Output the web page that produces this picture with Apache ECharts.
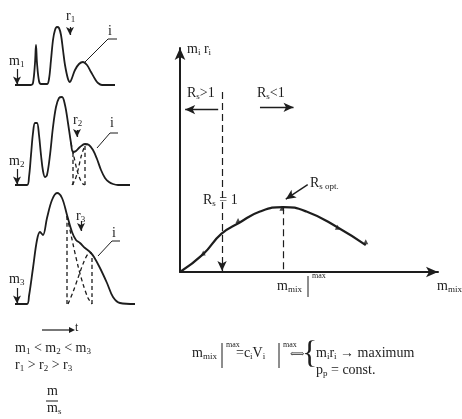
<!DOCTYPE html>
<html>
<head>
<meta charset="utf-8">
<script src="https://cdn.jsdelivr.net/npm/echarts@6/dist/echarts.min.js"></script>
<style>
  html, body { margin: 0; padding: 0; background: #fff; }
  #chart { width: 462px; height: 419px; }
</style>
</head>
<body>
<div id="chart"></div>
<script>
const INK = '#1d1d1d';
const SERIF = '"Liberation Serif", "DejaVu Serif", serif';

// Detector traces for three injected masses m1 < m2 < m3: [time, signal]
const trace1 = [[0,0],[1.6,0],[1.8,2],[2.0,22],[2.1,40],[2.2,22],[2.4,4],[2.6,1],[3.2,1],[3.4,6],[3.6,25],[3.8,45],[4.0,55],[4.2,58],[4.4,57],[4.6,50],[4.8,35],[5.0,20],[5.3,6],[5.5,3],[5.7,7],[6.0,15],[6.4,21],[6.8,23],[7.2,20],[7.6,13],[8.0,6],[8.3,2],[8.7,0],[10,0]];
const trace2 = [[0,0],[1.2,0],[1.4,8],[1.6,30],[1.8,52],[2.0,62],[2.2,62],[2.4,50],[2.6,30],[2.8,14],[3.0,8],[3.2,10],[3.5,30],[3.8,58],[4.1,78],[4.4,87],[4.7,88],[5.0,80],[5.3,62],[5.6,42],[5.8,33],[6.1,34],[6.5,38],[7.0,41],[7.4,40],[7.8,35],[8.2,26],[8.6,15],[9.0,7],[9.4,3],[9.8,1],[10.3,0],[11.5,0]];
const trace3 = [[0,0],[1.2,0],[1.4,8],[1.8,36],[2.2,64],[2.5,72],[2.8,69],[3.2,86],[3.7,104],[4.2,111],[4.7,106],[5.2,89],[5.7,72],[6.1,64],[6.5,61],[7.0,56],[7.5,52],[7.9,47],[8.5,36],[9.2,21],[9.8,7],[10.5,1],[12,0]];

// Resolved components of the overlapping pair (drawn dashed)
const tail2 = [[5.6,42],[5.9,28],[6.2,15],[6.5,6],[6.8,1],[7.0,0]];
const front2 = [[5.7,0],[6.0,5],[6.3,15],[6.6,28],[6.9,37],[7.1,40]];
const tail3 = [[5.2,88],[5.8,60],[6.3,38],[6.8,20],[7.3,6],[7.7,0]];
const front3 = [[5.3,0],[5.8,12],[6.3,26],[6.8,40],[7.3,50],[7.7,51]];

// Cut positions between the pair: [time, signal at the cut]
const cuts2 = [[5.8,33],[7.0,41]];
const cuts3 = [[5.2,88],[7.7,49]];

// Retention marks r1 > r2 > r3: [time, arrow top, arrow tip]
const retention = [[5.5,58,50],[6.2,55,48],[6.6,83,73]];
// Leader line to component i in each trace
const leaders = [
  [[7.0,23],[9.3,46],[10.2,46]],
  [[8.2,37],[9.5,52],[10.3,52]],
  [[8.3,48],[9.7,63],[10.5,63]]
];

// Productivity m_i·r_i against injected mass m_mix
const mixLoad      = [0, 0.9, 1.6, 2.3, 3.1, 4.0, 4.9, 6.1, 7.2];
const productivity = [0, 0.8, 1.7, 2.2, 2.7, 2.9, 2.7, 2.0, 1.2];
const measuredLoad = [0.9, 2.25, 3.95, 6.1, 7.2];
const measuredProd = [0.85, 2.3, 2.85, 2.0, 1.35];
const rsOneLoad = 1.63;   // load where R_s = 1
const optLoad = 4.0;      // m_mix at the maximum

const traces = [trace1, trace2, trace3];
const baselines = [85, 185, 304];
const spans = [80, 100, 120];   // signal range per panel, 1 unit per pixel

const grids = baselines.map((b, i) => ({ left: 15, width: 125, top: b - spans[i], height: spans[i] }));
grids.push({ left: 180, width: 258, top: 48, height: 224 });

const hiddenX = i => ({ type: 'value', gridIndex: i, min: 0, max: 12.5, show: false });
const hiddenY = i => ({ type: 'value', gridIndex: i, min: 0, max: spans[i], show: false });

const arrowStyle = { color: INK, width: 1.2, type: 'solid' };
function markArrows(pairs) {
  return {
    silent: true, symbol: ['none', 'arrow'], symbolSize: [6, 8],
    label: { show: false }, lineStyle: arrowStyle,
    emphasis: { disabled: true },
    data: pairs.map(([a, b]) => [{ coord: a }, { coord: b }])
  };
}

const series = [];
traces.forEach((tr, i) => {
  const r = retention[i];
  series.push({
    type: 'line', xAxisIndex: i, yAxisIndex: i, data: tr, smooth: 0.35,
    symbol: 'none', lineStyle: { color: INK, width: 1.8 },
    markLine: markArrows([
      [[0.2, 16], [0.2, 0.5]],
      [[r[0], r[1]], [r[0], r[2]]]
    ])
  });
  series.push({
    type: 'line', xAxisIndex: i, yAxisIndex: i, data: leaders[i],
    symbol: 'none', lineStyle: { color: INK, width: 1 }
  });
});

function dashed(i, data) {
  return { type: 'line', xAxisIndex: i, yAxisIndex: i, data, smooth: 0.3, symbol: 'none',
    lineStyle: { color: INK, width: 1.3, type: [4, 3] } };
}
series.push(dashed(1, tail2), dashed(1, front2), dashed(2, tail3), dashed(2, front3));
cuts2.forEach(c => series.push(dashed(1, [[c[0], 0], c])));
cuts3.forEach(c => series.push(dashed(2, [[c[0], 0], c])));

// Productivity curve, measured points and annotations
series.push({
  type: 'line', xAxisIndex: 3, yAxisIndex: 3,
  data: mixLoad.map((x, k) => [x, productivity[k]]),
  smooth: true, symbol: 'none', lineStyle: { color: INK, width: 2.2 },
  markLine: {
    silent: true, label: { show: false }, emphasis: { disabled: true }, symbolSize: [7, 10],
    data: [
      [{ coord: [rsOneLoad, 8.04], symbol: 'none', lineStyle: { color: INK, width: 1.2, type: [7, 4] } },
       { coord: [rsOneLoad, 0.05], symbol: 'arrow' }],
      [{ coord: [optLoad, 2.89], symbol: 'none', lineStyle: { color: INK, width: 1.2, type: [7, 4] } },
       { coord: [optLoad, 0], symbol: 'none' }],
      [{ coord: [rsOneLoad - 0.15, 7.25], symbol: 'none', lineStyle: { color: INK, width: 1.4, type: 'solid' } },
       { coord: [0.2, 7.25], symbol: 'arrow' }],
      [{ coord: [3.1, 7.35], symbol: 'none', lineStyle: { color: INK, width: 1.4, type: 'solid' } },
       { coord: [4.4, 7.35], symbol: 'arrow' }],
      [{ coord: [4.95, 3.9], symbol: 'none', lineStyle: { color: INK, width: 1.4, type: 'solid', curveness: 0.35 } },
       { coord: [4.1, 3.25], symbol: 'arrow' }]
    ]
  }
});
series.push({
  type: 'scatter', xAxisIndex: 3, yAxisIndex: 3,
  data: measuredLoad.map((x, k) => [x, measuredProd[k]]),
  symbol: 'triangle', symbolSize: 5, itemStyle: { color: INK }
});

const axisLine = { show: true, symbol: ['none', 'arrow'], symbolSize: [8, 12], lineStyle: { color: INK, width: 2 } };
const xAxes = [0, 1, 2].map(hiddenX);
xAxes.push({ type: 'value', gridIndex: 3, min: 0, max: 10, axisLine, axisTick: { show: false }, axisLabel: { show: false }, splitLine: { show: false } });
const yAxes = [0, 1, 2].map(hiddenY);
yAxes.push({ type: 'value', gridIndex: 3, min: 0, max: 10, axisLine, axisTick: { show: false }, axisLabel: { show: false }, splitLine: { show: false } });

// Text with sub- and superscripts
const RICH = {
  s: { fontSize: 9, fontFamily: SERIF, fill: INK, padding: [7, 0, 0, 0] }
};
const txt = (left, top, text, size) => ({
  type: 'text', left, top, silent: true,
  style: { text, fill: INK, fontFamily: SERIF, fontSize: size || 14, rich: RICH }
});
const seg = (x1, y1, x2, y2, w) => ({
  type: 'line', silent: true, shape: { x1, y1, x2, y2 }, style: { stroke: INK, lineWidth: w || 1 }
});
const head = (x, y) => ({
  type: 'polygon', silent: true, shape: { points: [[x - 6, y - 3], [x, y], [x - 6, y + 3]] }, style: { fill: INK }
});

const graphic = [
  // chromatogram labels
  txt(9, 54, 'm{s|1}'), txt(66, 9, 'r{s|1}'), txt(108, 24, 'i'),
  txt(9, 154, 'm{s|2}'), txt(73, 113, 'r{s|2}'), txt(110, 116, 'i'),
  txt(9, 272, 'm{s|3}'), txt(76, 209, 'r{s|3}'), txt(112, 226, 'i'),
  seg(42, 330, 70, 330, 1.2), head(75, 330), txt(75, 322, 't', 12),
  txt(15, 341, 'm{s|1} < m{s|2} < m{s|3}'),
  txt(15, 358, 'r{s|1} > r{s|2} > r{s|3}'),
  txt(47, 384, 'm'), seg(46, 401, 58, 401, 1), txt(47, 401, 'm{s|s}'),
  // productivity plot labels
  txt(187, 42, 'm{s|i} r{s|i}'),
  txt(187, 86, 'R{s|s}>1'), txt(257, 86, 'R{s|s}<1'),
  txt(203, 193, 'R{s|s} = 1'), txt(310, 176, 'R{s|s opt.}'),
  txt(277, 279, 'm{s|mix}'), seg(308, 276, 308, 297, 1), txt(312, 272, 'max', 8),
  txt(437, 279, 'm{s|mix}'),
  // optimum condition
  txt(192, 346, 'm{s|mix}'), seg(222, 343, 222, 368, 1), txt(226, 341, 'max', 8),
  txt(236, 346, '=c{s|i}V{s|i}'), seg(279, 343, 279, 368, 1), txt(283, 341, 'max', 8),
  txt(290, 349, '⟺', 10),
  txt(302, 339, '{', 32),
  txt(316, 346, 'm{s|i}r{s|i} → maximum'),
  txt(316, 363, 'p{s|p} = const.')
];

const chart = echarts.init(document.getElementById('chart'), null, { renderer: 'canvas' });
chart.setOption({
  animation: false,
  backgroundColor: '#fff',
  grid: grids,
  xAxis: xAxes,
  yAxis: yAxes,
  series,
  graphic
});
</script>
</body>
</html>
